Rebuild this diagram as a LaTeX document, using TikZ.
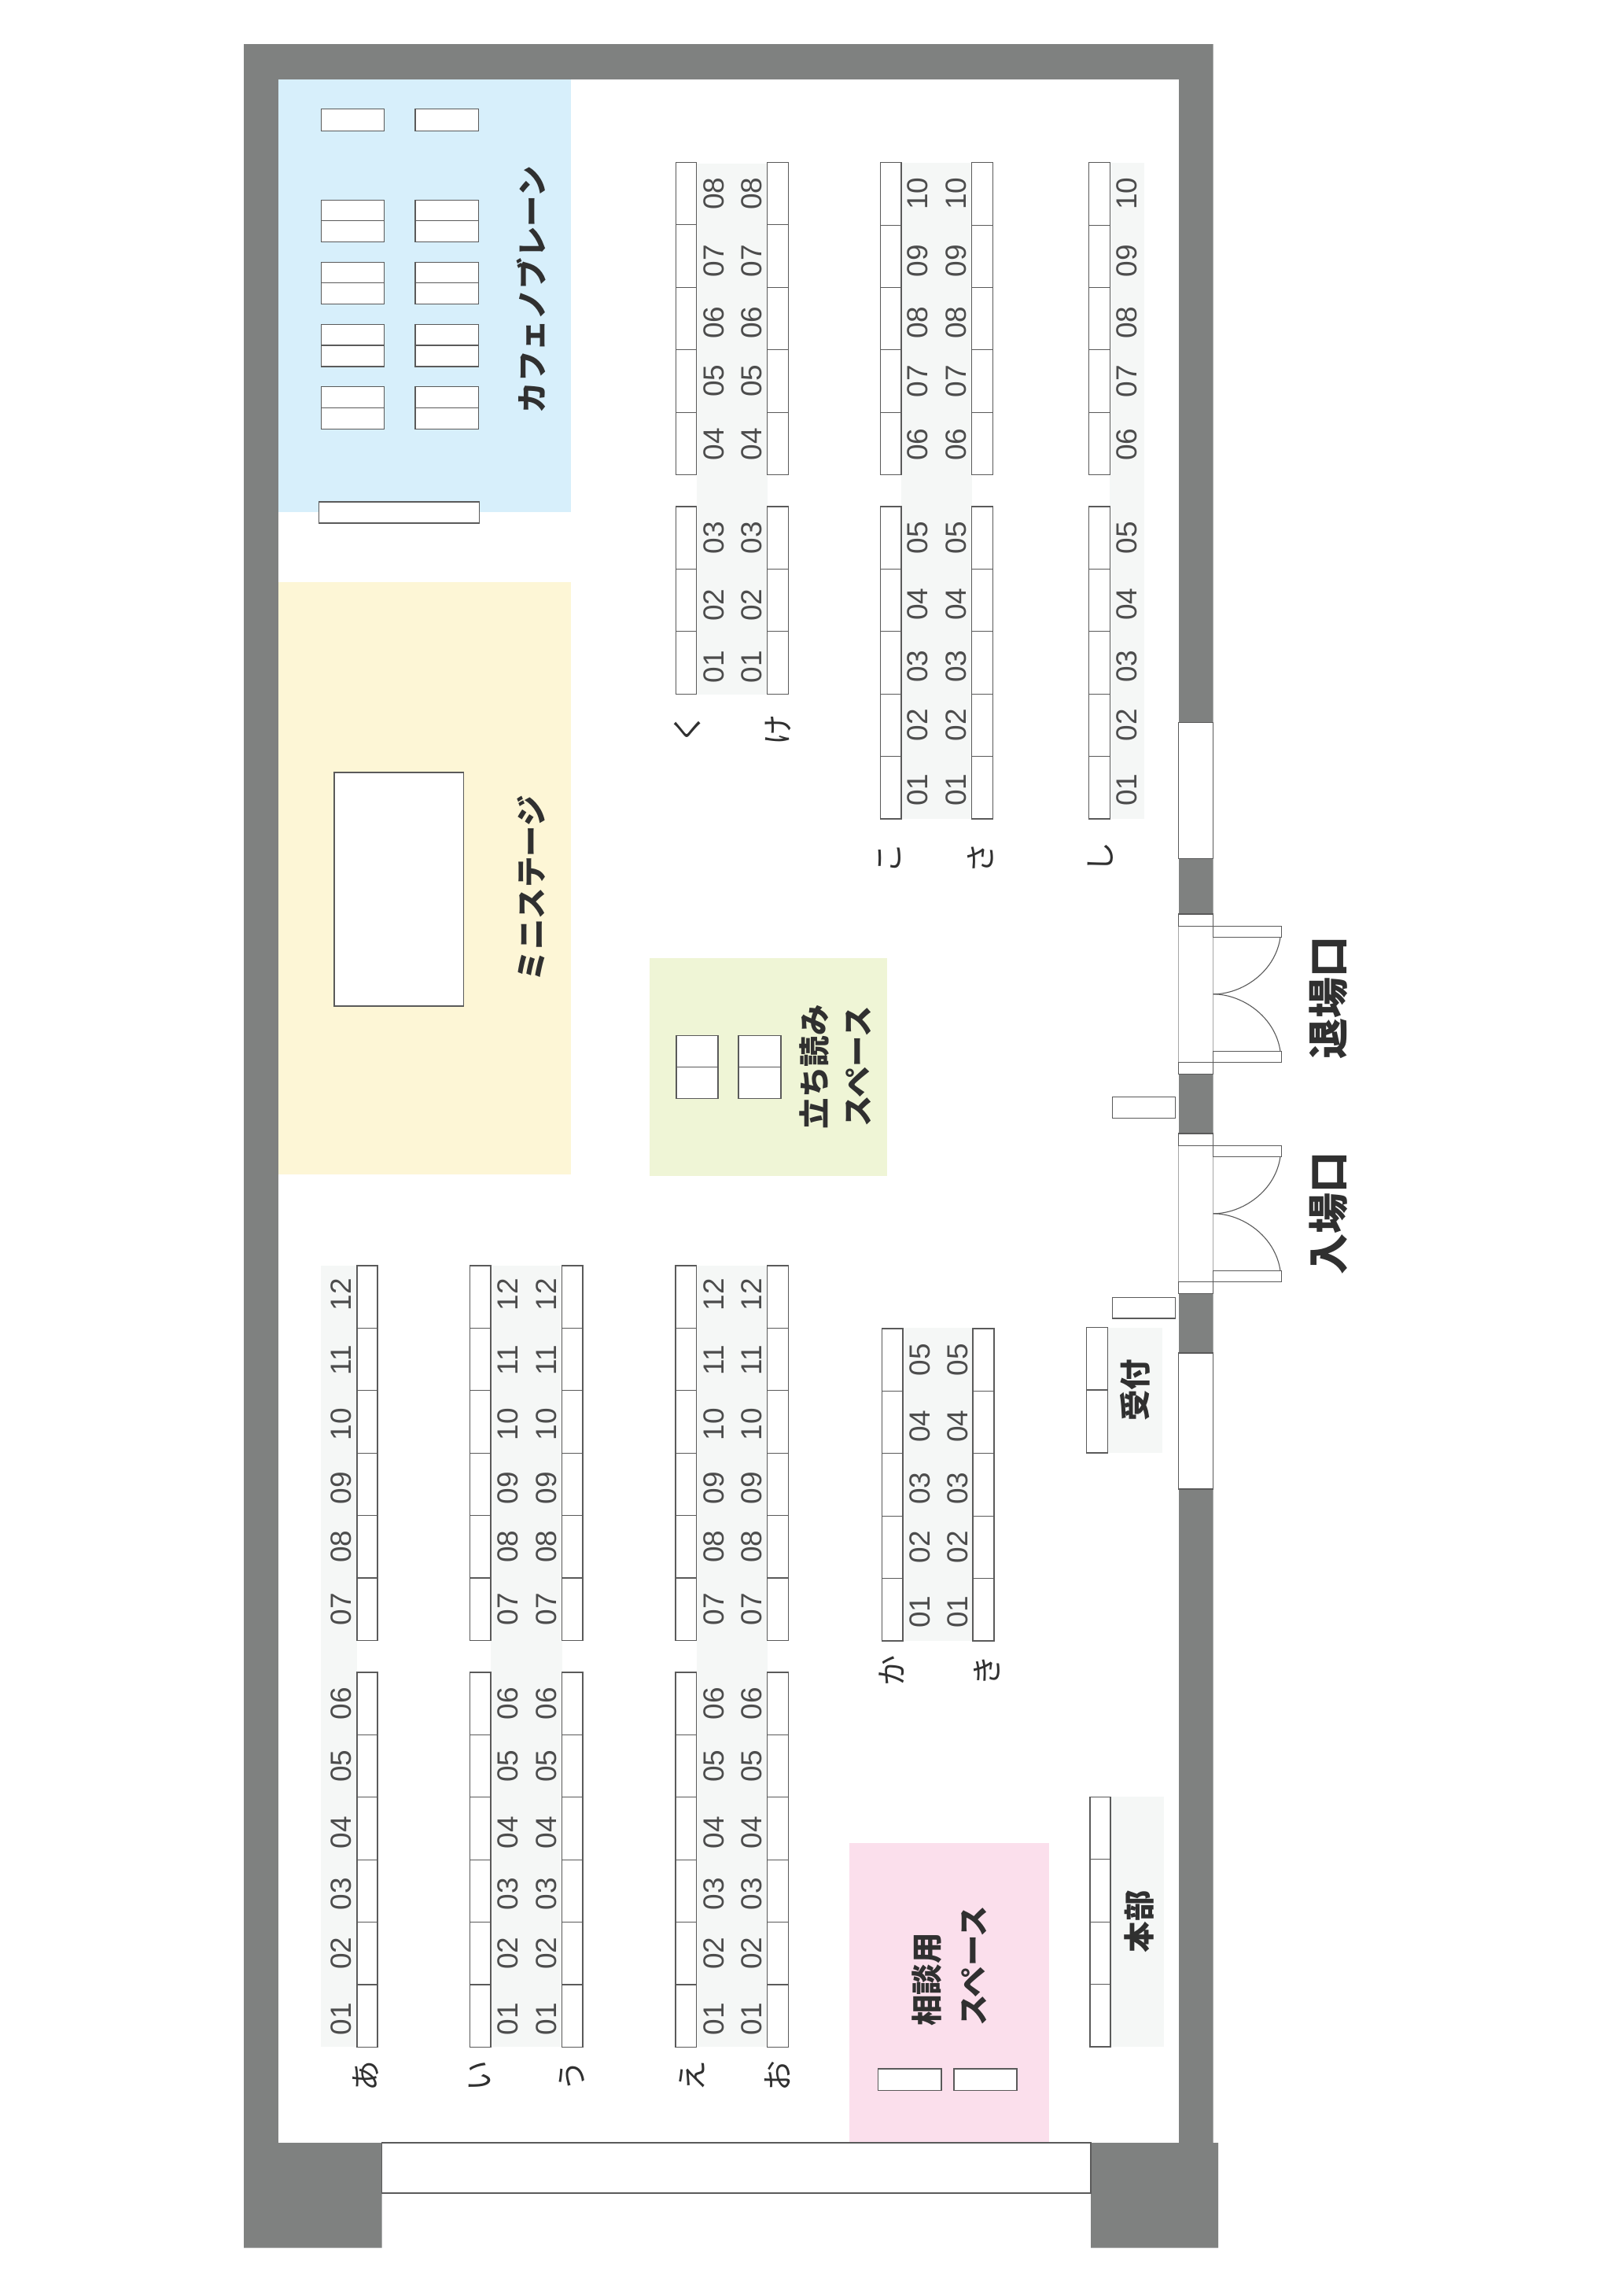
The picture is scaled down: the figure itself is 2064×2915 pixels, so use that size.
\documentclass[tikz,border=0pt]{standalone}
\usepackage{fontspec}
\setmainfont{Liberation Sans}
\newfontfamily\jp{Noto Sans CJK JP}
\definecolor{wallc}{HTML}{7F8180}
\definecolor{cafec}{HTML}{D7EFFB}
\definecolor{stagec}{HTML}{FDF6D6}
\definecolor{greenc}{HTML}{EFF5D6}
\definecolor{pinkc}{HTML}{FBDFEC}
\definecolor{bgc}{HTML}{F5F7F6}
\definecolor{linec}{HTML}{5A5A5A}
\definecolor{textc}{HTML}{303030}
\definecolor{numc}{HTML}{4C4C4C}
\tikzset{
  desk/.style={draw=linec,fill=white,line width=1.1pt},
  thinline/.style={draw=linec,line width=1.1pt},
  numlabel/.style={rotate=90,text=numc,inner sep=0pt,font=\fontsize{37}{37}\selectfont},
  kana/.style={rotate=90,text=textc,inner sep=0pt,font=\jp\fontsize{39}{39}\selectfont},
  area/.style={rotate=90,text=textc,inner sep=0pt,font=\jp\bfseries\fontsize{39.5}{39.5}\selectfont},
  bigl/.style={rotate=90,text=textc,inner sep=0pt,font=\jp\bfseries\fontsize{52}{52}\selectfont},
}
\newcommand{\deskblock}[4]{%
  \foreach \di in {1,...,#4}{\draw[desk] (#1,{#3+(\di-1)*79.4}) rectangle (#2,{#3+\di*79.4});}}
% x, ytop, last number, list of index/offset pairs
\newcommand{\numblock}[4]{%
  \foreach \nk/\noffs in #4{%
    \pgfmathtruncatemacro\nval{#3-\nk}%
    \pgfmathsetmacro\ny{#2+(\nk+0.5)*79.4+\noffs}%
    \node[numlabel] at (#1,\ny) {\ifnum\nval<10 0\fi\nval};}}
\def\offA{0/0,1/6,2/5,3/0,4/1}
\def\offB{0/0,1/5,2/4.5,3/0,4/3}
\def\offC{0/0,1/6,2/5}
\def\offD{0/-3,1/1,2/3,3/5,4/0,5/0}
\def\offE{0/0,1/0,2/5,3/4,4/0,5/4}
\begin{document}
\begin{tikzpicture}[x=1pt,y=-1pt]
\useasboundingbox (0,0) rectangle (2064,2915);
\fill[white] (0,0) rectangle (2064,2915);
% walls
\fill[wallc] (310,56) -- (1542.7,56) -- (1542.7,2724) -- (1549,2724) -- (1549,2857.6) -- (1387,2857.6) -- (1387,2724) -- (485.7,2724) -- (485.7,2857.6) -- (310,2857.6) -- cycle;
\fill[white] (353.6,101) rectangle (1498.7,2724);
% coloured areas
\fill[cafec] (353.6,101) rectangle (725.5,651);
\fill[stagec] (353.6,740) rectangle (725.5,1493);
\fill[greenc] (825.6,1218) rectangle (1127.5,1495);
\fill[pinkc] (1080,2343) rectangle (1334,2724);
% rear door
\draw[thinline,fill=white] (485.7,2724) rectangle (1387,2788);
% shaded aisles
\foreach \xa/\xb/\ya/\yb in {
  885.7/975.5/208/882.5, 1146/1235.7/207/1041, 1411/1455/207/1041,
  408/454/1609/2602, 624/714.6/1609/2602, 885.7/975.8/1609/2602,
  1148/1237/1688/2086, 1408/1478/1688/1847, 1412/1480/2284/2602}
  \fill[bgc] (\xa,\ya) rectangle (\xb,\yb);
% desks top-right groups
\deskblock{859.7}{885.7}{206.5}{5}
\deskblock{975.5}{1002.6}{206.5}{5}
\deskblock{859.7}{885.7}{644}{3}
\deskblock{975.5}{1002.6}{644}{3}
\deskblock{1119.3}{1146}{206.7}{5}
\deskblock{1235.7}{1262.3}{206.7}{5}
\deskblock{1384.7}{1411.3}{206.7}{5}
\deskblock{1119.3}{1146}{644}{5}
\deskblock{1235.7}{1262.3}{644}{5}
\deskblock{1384.7}{1411.3}{644}{5}
% desks lower groups
\foreach \xa/\xb in {454/480,597.7/624,714.6/741,859/885.7,975.8/1002.3}{
  \deskblock{\xa}{\xb}{1609}{6}
  \deskblock{\xa}{\xb}{2126}{6}
}
\deskblock{1121.3}{1148}{1689}{5}
\deskblock{1237}{1264}{1689}{5}
\deskblock{1386}{1412}{2284.4}{4}
% reception
\draw[desk] (1381.3,1687.8) rectangle (1408.3,1767);
\draw[desk] (1381.3,1767) rectangle (1408.3,1847);
% numbers
\numblock{907.5}{206.5}{8}{\offA}
\numblock{956}{206.5}{8}{\offA}
\numblock{907.5}{644}{3}{\offC}
\numblock{956}{644}{3}{\offC}
\numblock{1167}{206.7}{10}{\offA}
\numblock{1216}{206.7}{10}{\offA}
\numblock{1432.5}{206.7}{10}{\offA}
\numblock{1167}{644}{5}{\offB}
\numblock{1216}{644}{5}{\offB}
\numblock{1432.5}{644}{5}{\offB}
\foreach \xx in {433.5,645.5,694.5,907.5,956}{
  \numblock{\xx}{1609}{12}{\offD}
  \numblock{\xx}{2126}{6}{\offE}
}
\numblock{1169.6}{1689}{5}{\offB}
\numblock{1218}{1689}{5}{\offB}
% cafe tables
\foreach \xa/\xb in {408.7/488.3,528/608.2}{
  \draw[desk] (\xa,138.7) rectangle (\xb,166.3);
  \foreach \ya/\yb in {254.7/280.5,280.5/307.5,333.3/359.8,359.8/386.7,412.6/439,439/466,491.8/518.2,518.2/545.2}
    \draw[desk] (\xa,\ya) rectangle (\xb,\yb);
}
\draw[desk] (405.6,638) rectangle (609.7,665);
% stage
\draw[desk] (425,982) rectangle (589.5,1279);
% reading tables
\foreach \xa/\xb in {860/913,939/993}{
  \draw[desk] (\xa,1316.5) rectangle (\xb,1356.5);
  \draw[desk] (\xa,1356.5) rectangle (\xb,1396.5);
}
% consultation tables
\draw[desk] (1116.7,2630) rectangle (1197,2657.6);
\draw[desk] (1213,2630) rectangle (1293,2657.6);
% windows
\draw[thinline,fill=white] (1498.7,918.6) rectangle (1542.7,1091.5);
\draw[thinline,fill=white] (1498.7,1720) rectangle (1542.7,1893);
% doors
\foreach \d in {0,279}{
  \fill[white] (1498.7,{1177.5+\d}) rectangle (1542.7,{1350.5+\d});
  \draw[line width=1pt,draw=black!35] (1498.7,{1177.5+\d}) -- (1498.7,{1350.5+\d});
  \draw[line width=1pt,draw=black!35] (1542.7,{1177.5+\d}) -- (1542.7,{1350.5+\d});
  \draw[desk] (1498.7,{1162+\d}) rectangle (1542.7,{1177.5+\d});
  \draw[desk] (1498.7,{1350.5+\d}) rectangle (1542.7,{1365.3+\d});
  \draw[desk] (1542.7,{1177.5+\d}) rectangle (1629.3,{1191.3+\d});
  \draw[desk] (1542.7,{1336.7+\d}) rectangle (1629.3,{1350.5+\d});
  \draw[thinline] (1628,{1191.3+\d}) .. controls (1622,{1235+\d}) and (1580,{1263.8+\d}) .. (1542.7,{1263.8+\d});
  \draw[thinline] (1628,{1336.7+\d}) .. controls (1622,{1293+\d}) and (1580,{1263.8+\d}) .. (1542.7,{1263.8+\d});
}
% podiums
\draw[desk] (1414.3,1394.4) rectangle (1494.7,1421.4);
\draw[desk] (1414.3,1649.5) rectangle (1494.7,1676);
% row labels
\foreach \xx/\yy/\t in {874/926/く,989/928/け,1131/1091/こ,1246.5/1091/さ,1399/1090/し,1134/2124/か,1255/2124/き,465/2639/あ,610/2639/い,727/2639/う,880/2639/え,989/2639/お}
  \node[kana] at (\xx,\yy) {\t};
% area labels
\node[area] at (676,368) {カフェノブレーン};
\node[area] at (676,1129) {ミニステージ};
\node[area] at (1036,1356) {立ち読み};
\node[area] at (1091.5,1356) {スペース};
\node[area,anchor=west] at (1179,2576) {相談用};
\node[area,anchor=west] at (1239,2576) {スペース};
\node[area] at (1448,2442.5) {本部};
\node[area] at (1443.7,1767) {受付};
\node[bigl] at (1689,1268) {退場口};
\node[bigl] at (1689,1542) {入場口};
\end{tikzpicture}
\end{document}
